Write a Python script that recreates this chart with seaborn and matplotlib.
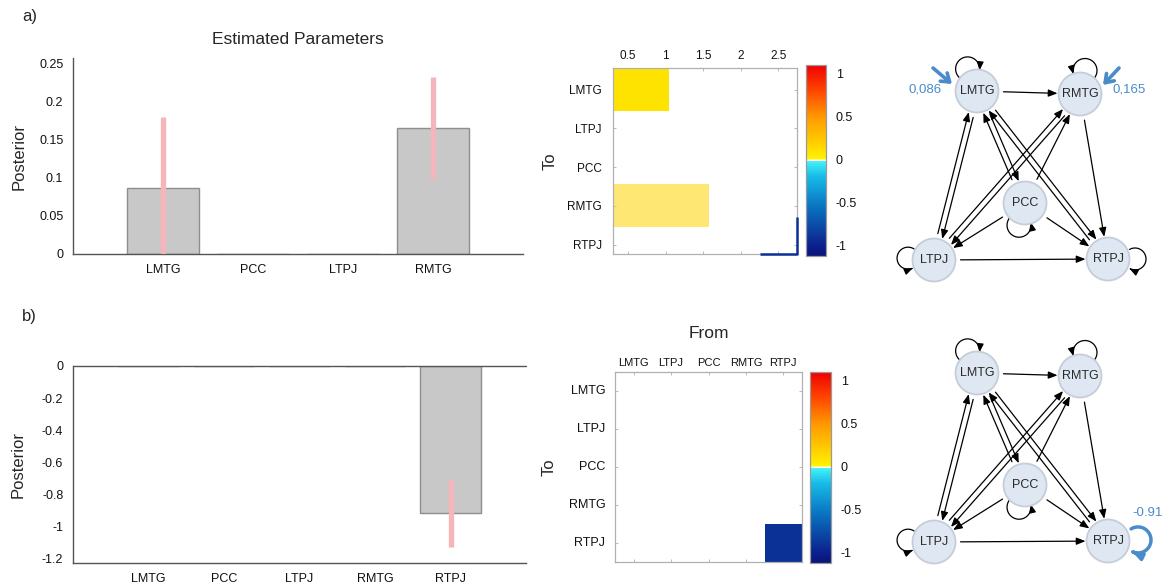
import numpy as np
import pandas as pd
import matplotlib
matplotlib.use("Agg")
import matplotlib.pyplot as plt
import seaborn as sns
from matplotlib.colors import LinearSegmentedColormap, Normalize
from matplotlib.cm import ScalarMappable
from matplotlib.patches import Circle, FancyArrowPatch, ArrowStyle
from matplotlib.path import Path

# ---------------- data ----------------
regions_a = ["LMTG", "PCC", "LTPJ", "RMTG"]
posterior_a = [0.086, 0.0, 0.0, 0.165]
ci_a = [0.093, 0.0, 0.0, 0.067]
yticks_a = [0, 0.05, 0.1, 0.15, 0.2, 0.25]
yticklabels_a = ["0", "0.05", "0.1", "0.15", "0.2", "0.25"]

regions_b = ["LMTG", "PCC", "LTPJ", "RMTG", "RTPJ"]
posterior_b = [0.0, 0.0, 0.0, 0.0, -0.92]
ci_b = [0.0, 0.0, 0.0, 0.0, 0.21]
yticks_b = [-1.2, -1, -0.8, -0.6, -0.4, -0.2, 0]
yticklabels_b = ["-1.2", "-1", "-0.8", "-0.6", "-0.4", "-0.2", "0"]

matrix_labels = ["LMTG", "LTPJ", "PCC", "RMTG", "RTPJ"]
# panel a matrix, drawn as row strips on a 0.3 - 2.75 axis
strip_values_a = [0.086, 0.0, 0.0, 0.165, -0.91]
strip_ends_a = [1.05, 0.0, 0.0, 1.58, 0.0]
strip_start_a = 0.3
strip_alpha_a = [1.0, 1.0, 1.0, 0.55, 1.0]
rtpj_corner_a = (2.26, 3.29)
xticks_heat_a = [0.5, 1, 1.5, 2, 2.5]
xticklabels_heat_a = ["0.5", "1", "1.5", "2", "2.5"]

# panel b matrix (To x From)
matrix_b = [[0, 0, 0, 0, 0],
            [0, 0, 0, 0, 0],
            [0, 0, 0, 0, 0],
            [0, 0, 0, 0, 0],
            [0, 0, 0, 0, -0.91]]

cbar_ticks = [-1, -0.5, 0, 0.5, 1]
cbar_ticklabels = ["-1", "-0.5", "0", "0.5", "1"]
vmin, vmax = -1.12, 1.1

# network layout (pixels of the figure, y from top), panel b shifted down
nodes = ["LMTG", "RMTG", "PCC", "LTPJ", "RTPJ"]
node_x = [977, 1080, 1025, 934, 1108]
node_y = [91, 94, 203, 260, 259]
panel_b_shift = 282
edges = [("LMTG", "RMTG"), ("LMTG", "LTPJ"), ("LTPJ", "LMTG"), ("LMTG", "PCC"),
         ("PCC", "LMTG"), ("LMTG", "RTPJ"), ("RTPJ", "LMTG"), ("RMTG", "LTPJ"),
         ("LTPJ", "RMTG"), ("PCC", "RMTG"), ("RMTG", "RTPJ"), ("PCC", "LTPJ"),
         ("PCC", "RTPJ"), ("LTPJ", "RTPJ")]
# self loops: direction of loop centre, its distance, loop radius, turn (+1 ccw, -1 cw)
loops = {"LMTG": (113, 24, 12, -1), "RMTG": (78, 24, 12, 1),
         "PCC": (255, 23, 12, 1), "LTPJ": (176, 26, 11, 1),
         "RTPJ": (0, 27, 11, -1)}
blue_loop = (2, 30, 13, -1)
inputs_a = {"LMTG": 0.086, "RMTG": 0.165}
self_values_b = {"RTPJ": -0.91}

# ---------------- style ----------------
sns.set_style("white")
plt.rcParams["font.family"] = ["Liberation Sans", "DejaVu Sans"]
W, H = 1171, 588
fig = plt.figure(figsize=(W / 100, H / 100), dpi=100)


def px_rect(x0, y0, x1, y1):
    return [x0 / W, 1 - y1 / H, (x1 - x0) / W, (y1 - y0) / H]


AX = "#555555"
BAR = "#c8c8c8"
BAR_EDGE = "#8e8e8e"
ERR = "#f6b4bb"
BLUE = "#4a8bca"

cmap = LinearSegmentedColormap.from_list("jetw", [
    (0.0, "#0a1478"), (0.05, "#0b1f8c"), (0.28, "#0a7dc6"), (0.42, "#18bde8"),
    (0.495, "#45f2f6"), (0.4985, "#ffffff"), (0.5015, "#ffffff"),
    (0.51, "#fff200"), (0.62, "#ffc400"), (0.73, "#ff9800"), (0.86, "#ff4a00"),
    (1.0, "#f00000")])
norm = Normalize(vmin=vmin, vmax=vmax)


def style_bar_axes(ax):
    for s in ["top", "right"]:
        ax.spines[s].set_visible(False)
    for s in ["left", "bottom"]:
        ax.spines[s].set_color(AX)
        ax.spines[s].set_linewidth(1.0)
    ax.tick_params(direction="in", length=3, width=0.8, color=AX, labelsize=9,
                   labelcolor="#111111")
    ax.tick_params(axis="x", pad=7)
    ax.tick_params(axis="y", pad=7)
    ax.set_xlabel("")


# ---------------- panel a bar chart ----------------
ax_a = fig.add_axes(px_rect(73, 58, 523, 254))
sns.barplot(x=regions_a, y=posterior_a, ax=ax_a, color=BAR, edgecolor=BAR_EDGE,
            linewidth=1.0, width=0.8, saturation=1, errorbar=None)
ia = [i for i, e in enumerate(ci_a) if e > 0]
ax_a.errorbar(ia, [posterior_a[i] for i in ia], yerr=[ci_a[i] for i in ia],
              fmt="none", ecolor=ERR, elinewidth=3.8, capsize=0, zorder=4)
ax_a.set_xlim(-1, 4)
ax_a.set_ylim(0, 0.2566)
ax_a.set_yticks(yticks_a, labels=yticklabels_a)
style_bar_axes(ax_a)
ax_a.set_ylabel("Posterior", fontsize=12)
ax_a.yaxis.set_label_coords(-0.104, 0.5)
ax_a.text(0.5, 1 + 18 / 196, "Estimated Parameters", transform=ax_a.transAxes,
          ha="center", va="center", fontsize=12.5)

# ---------------- panel b bar chart ----------------
ax_b = fig.add_axes(px_rect(73, 366, 526, 563))
sns.barplot(x=regions_b, y=posterior_b, ax=ax_b, color=BAR, edgecolor=BAR_EDGE,
            linewidth=1.0, width=0.8, saturation=1, errorbar=None)
ib = [i for i, e in enumerate(ci_b) if e > 0]
ax_b.errorbar(ib, [posterior_b[i] for i in ib], yerr=[ci_b[i] for i in ib],
              fmt="none", ecolor=ERR, elinewidth=3.8, capsize=0, zorder=4)
ax_b.axhline(0, color=AX, lw=1.0, clip_on=False, zorder=5)
ax_b.set_xlim(-1, 5)
ax_b.set_ylim(-1.23, 0)
ax_b.set_yticks(yticks_b, labels=yticklabels_b)
style_bar_axes(ax_b)
ax_b.set_ylabel("Posterior", fontsize=12)
ax_b.yaxis.set_label_coords(-0.104, 0.5)


def style_heat(ax):
    for s in ax.spines.values():
        s.set_visible(True)
        s.set_color("#b0b0b0")
        s.set_linewidth(0.9)
    ax.tick_params(direction="in", length=2, width=0.6, color="#b0b0b0",
                   top=True, bottom=True, left=True, right=True,
                   labeltop=True, labelbottom=False, labelsize=8.5,
                   labelcolor="#111111")


def style_cbar(cb):
    cb.outline.set_visible(True)
    cb.outline.set_linewidth(0.9)
    cb.outline.set_edgecolor("#9a9a9a")
    cb.set_ticks(cbar_ticks, labels=cbar_ticklabels)
    cb.ax.tick_params(length=0, labelsize=9, pad=7, labelcolor="#111111")


# ---------------- panel a matrix ----------------
ax_ha = fig.add_axes(px_rect(613, 68, 797, 254))
widths = [max(e - strip_start_a, 0) for e in strip_ends_a]
cols = [(*cmap(norm(v))[:3], a) for v, a in zip(strip_values_a, strip_alpha_a)]
ax_ha.barh(y=range(len(matrix_labels)), width=widths, left=strip_start_a,
           height=1.11, color=cols, linewidth=0)
ax_ha.set_xlim(0.3, 2.75)
ax_ha.set_ylim(4.245, -0.555)
x0c, y0c = rtpj_corner_a
ax_ha.plot([x0c, 2.75, 2.75], [4.245, 4.245, y0c], color=cmap(norm(strip_values_a[4])),
           lw=1.8, clip_on=False, solid_capstyle="butt", zorder=5)
ax_ha.xaxis.tick_top()
ax_ha.set_xticks(xticks_heat_a, labels=xticklabels_heat_a)
ax_ha.set_yticks(range(len(matrix_labels)), labels=matrix_labels)
style_heat(ax_ha)
ax_ha.tick_params(axis="x", pad=4)
ax_ha.tick_params(axis="y", pad=8)
ax_ha.set_ylabel("To", fontsize=12)
ax_ha.yaxis.set_label_coords(-0.30, 0.5)
cax_a = fig.add_axes(px_rect(806, 65, 826, 256))
cb_a = fig.colorbar(ScalarMappable(norm=norm, cmap=cmap), cax=cax_a)
style_cbar(cb_a)

# ---------------- panel b matrix ----------------
ax_hb = fig.add_axes(px_rect(615, 372, 802, 562))
cax_b = fig.add_axes(px_rect(810, 372, 831, 563))
df_b = pd.DataFrame(matrix_b, index=matrix_labels, columns=matrix_labels)
sns.heatmap(df_b, mask=(df_b == 0), cmap=cmap, vmin=vmin, vmax=vmax, ax=ax_hb,
            cbar=True, cbar_ax=cax_b, linewidths=0)
ax_hb.xaxis.tick_top()
ax_hb.set_xticklabels(matrix_labels, rotation=0)
ax_hb.set_yticklabels(matrix_labels, rotation=0)
style_heat(ax_hb)
ax_hb.tick_params(axis="x", pad=3, labelsize=8)
ax_hb.tick_params(axis="y", pad=7, labelsize=9)
ax_hb.set_ylabel("To", fontsize=12)
ax_hb.yaxis.set_label_coords(-0.31, 0.5)
ax_hb.text(0.5, 1 + 38 / 190, "From", transform=ax_hb.transAxes, ha="center",
           va="center", fontsize=12.5)
style_cbar(ax_hb.collections[0].colorbar)

# ---------------- networks ----------------
ax_n = fig.add_axes([0, 0, 1, 1], facecolor="none")
ax_n.set_xlim(0, W)
ax_n.set_ylim(H, 0)
ax_n.axis("off")
R = 21.5
head = ArrowStyle("-|>", head_length=0.45, head_width=0.18)
pair_set = set(edges)
GAP = 60


def polar(cx, cy, ang, dist):
    t = np.radians(ang)
    return cx + dist * np.cos(t), cy - dist * np.sin(t)


def draw_loop(cx, cy, spec, color, lw, ms):
    mid, D, rl, turn = spec
    lx, ly = polar(cx, cy, mid, D)
    phis = np.linspace(mid - turn * (180 - GAP), mid + turn * (180 - GAP), 60)
    verts = [polar(lx, ly, p, rl) for p in phis]
    codes = [Path.MOVETO] + [Path.LINETO] * (len(verts) - 1)
    ax_n.add_patch(FancyArrowPatch(path=Path(verts, codes), arrowstyle=head,
                                   mutation_scale=ms, lw=lw, color=color,
                                   shrinkA=0, shrinkB=0, zorder=2))


def draw_network(shift, show_inputs, self_vals):
    pos = {n: (x, y + shift) for n, x, y in zip(nodes, node_x, node_y)}
    for n, (cx, cy) in pos.items():
        ax_n.add_patch(Circle((cx, cy), R, facecolor="#dfe7f2", edgecolor="#c4cdd9",
                              lw=1.3, zorder=3))
        ax_n.text(cx, cy, n, ha="center", va="center", fontsize=9, color="#2a2a2a",
                  zorder=4)
    for a, b in edges:
        (xa, ya), (xb, yb) = pos[a], pos[b]
        dx, dy = xb - xa, yb - ya
        L = np.hypot(dx, dy)
        ux, uy = dx / L, dy / L
        off = 2.8 if (b, a) in pair_set else 0.0
        ox, oy = off * uy, -off * ux
        p0 = (xa + ux * (R + 5) + ox, ya + uy * (R + 5) + oy)
        p1 = (xb - ux * (R + 1) + ox, yb - uy * (R + 1) + oy)
        ax_n.add_patch(FancyArrowPatch(p0, p1, arrowstyle=head, mutation_scale=12,
                                       lw=0.9, color="black", shrinkA=0, shrinkB=0,
                                       zorder=2))
    for n, spec in loops.items():
        cx, cy = pos[n]
        if n in self_vals:
            draw_loop(cx, cy, blue_loop, BLUE, 2.5, 12)
            ax_n.text(cx + 40, cy - 28, f"{self_vals[n]:.2f}", ha="center",
                      va="center", fontsize=9.5, color=BLUE)
        else:
            draw_loop(cx, cy, spec, "black", 0.9, 11)
    if show_inputs:
        geo = {"LMTG": ((-44, -23), (-25, -7), (-52, -2)),
               "RMTG": ((39, -26), (23, -9), (49, -5))}
        for n, v in inputs_a.items():
            cx, cy = pos[n]
            tail, tip, lab = geo[n]
            ax_n.add_patch(FancyArrowPatch((cx + tail[0], cy + tail[1]),
                                           (cx + tip[0], cy + tip[1]),
                                           arrowstyle=ArrowStyle("->", head_length=0.5,
                                                                 head_width=0.35),
                                           mutation_scale=11, lw=2.6, color=BLUE,
                                           shrinkA=0, shrinkB=0, zorder=5,
                                           capstyle="round"))
            ax_n.text(cx + lab[0], cy + lab[1], f"{v:.3f}".replace(".", ","),
                      ha="center", va="center", fontsize=9.5, color=BLUE)


draw_network(0, True, {})
draw_network(panel_b_shift, False, self_values_b)

fig.text(22 / W, 1 - 16 / H, "a)", fontsize=12, va="center", ha="left")
fig.text(22 / W, 1 - 316 / H, "b)", fontsize=12, va="center", ha="left")

fig.savefig("out.png", dpi=100)
